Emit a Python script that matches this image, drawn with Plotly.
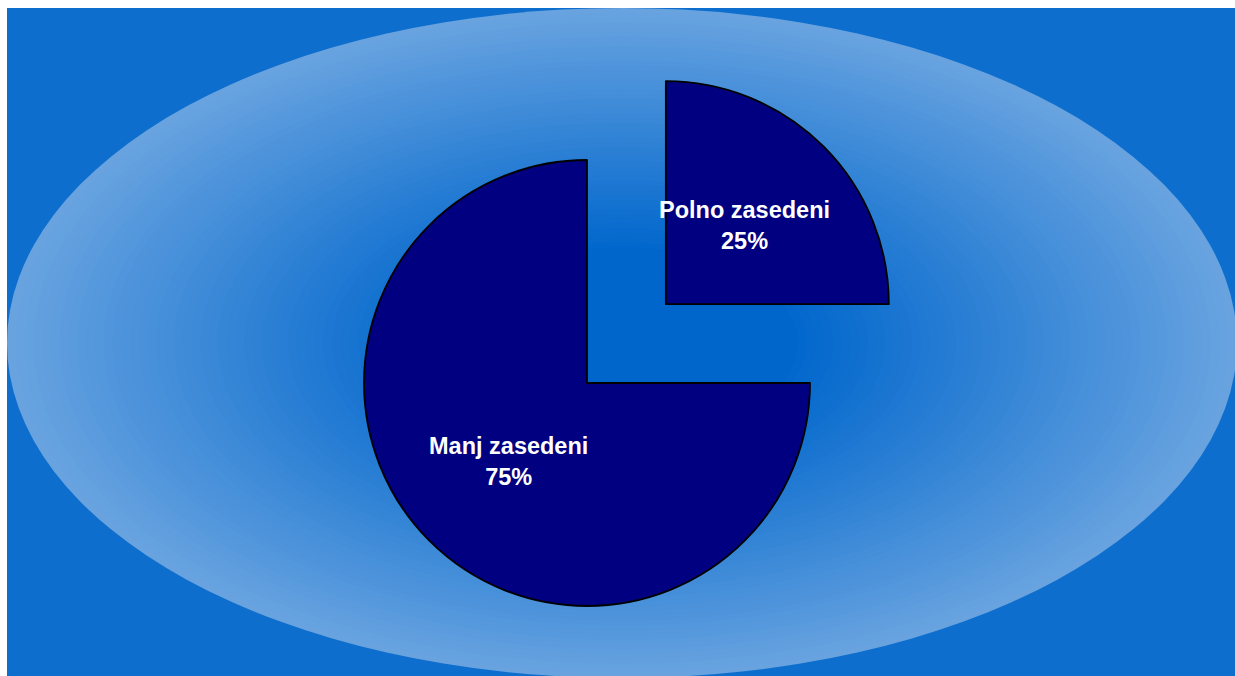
import numpy as np
import plotly.graph_objects as go

# ---- data ----
labels = ["Polno zasedeni", "Manj zasedeni"]
values = [25, 75]
pull = [0.5, 0.0]

# ---- style / layout constants ----
W, H = 1235, 676
CX, CY, R = 587, 383, 223          # pie centre/radius in px
NAVY = "#000080"
C_IN = np.array([0, 102, 204])
C_OUT = np.array([104, 163, 224])
C_BG = "rgb(14,110,205)"
FONT = dict(family="Liberation Sans", size=23.5, color="white", weight="bold")

fig = go.Figure()
annotations = []

total = float(sum(values))
cum = 0.0
for i, v in enumerate(values):
    mid = (cum + v / 2.0) / total * 2 * np.pi   # clockwise from 12 o'clock
    cum += v
    pcx = CX + pull[i] * R * np.sin(mid)
    pcy = CY - pull[i] * R * np.cos(mid)
    colors = [NAVY if j == i else "rgba(0,0,0,0)" for j in range(len(values))]
    widths = [1.8 if j == i else 0 for j in range(len(values))]
    fig.add_trace(go.Pie(
        labels=labels, values=values, sort=False, direction="clockwise", rotation=0,
        marker=dict(colors=colors, line=dict(color="black", width=widths)),
        textinfo="none",
        domain=dict(x=[(pcx - R) / W, (pcx + R) / W],
                    y=[1 - (pcy + R) / H, 1 - (pcy - R) / H]),
        showlegend=False, hoverinfo="label+percent",
    ))
    # label at half radius along the slice's mid-angle
    tx = pcx + 0.5 * R * np.sin(mid)
    ty = pcy - 0.5 * R * np.cos(mid)
    annotations.append(dict(
        x=tx / W, y=1 - ty / H, xref="paper", yref="paper",
        text="%s<br>%d%%" % (labels[i], round(100 * v / total)),
        showarrow=False, xanchor="center", yanchor="middle", font=FONT,
    ))

shapes = []
# blue background rectangle
shapes.append(dict(type="rect", xref="paper", yref="paper", x0=7 / W, x1=1.01, y0=-0.01, y1=1 - 8 / H,
                   fillcolor=C_BG, line=dict(width=0), layer="below"))
# radial gradient ellipse approximated by concentric ellipses
ex, ey, ea, eb = 622, 343, 615, 335
N = 70
for k in range(N, 0, -1):
    s = k / N
    t = min(max((s - 0.28) / 0.72, 0), 1)
    c = C_IN + t * (C_OUT - C_IN)
    shapes.append(dict(type="circle", xref="paper", yref="paper",
                       x0=(ex - ea * s) / W, x1=(ex + ea * s) / W,
                       y0=1 - (ey + eb * s) / H, y1=1 - (ey - eb * s) / H,
                       fillcolor="rgb(%d,%d,%d)" % tuple(c.round()), line=dict(width=0),
                       layer="below"))

fig.update_layout(width=W, height=H, margin=dict(l=0, r=0, t=0, b=0),
                  paper_bgcolor="white", plot_bgcolor="white",
                  shapes=shapes, annotations=annotations)

fig.write_html("out.html", config={"displayModeBar": False},
               post_script="document.body.style.margin='0';document.body.style.overflow='hidden';")
